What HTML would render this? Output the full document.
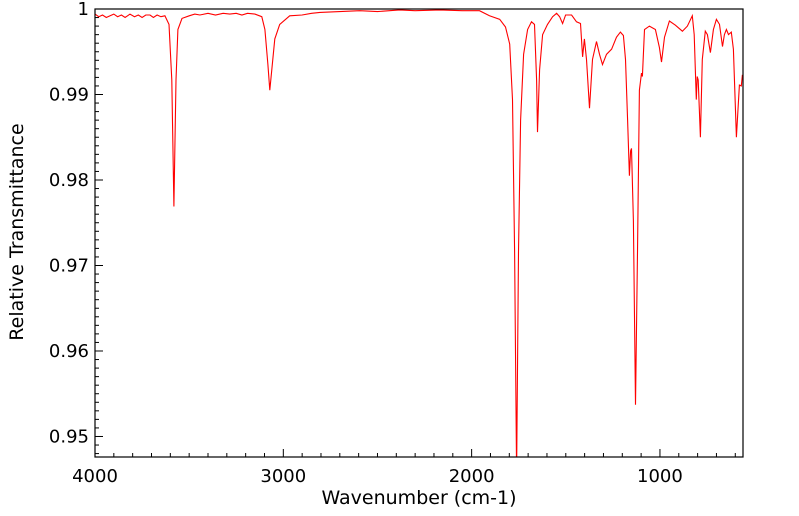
<!DOCTYPE html>
<html><head><meta charset="utf-8"><style>
html,body{margin:0;padding:0;background:#fff;}
svg{display:block;font-family:"DejaVu Sans","Liberation Sans",sans-serif;}
</style></head><body>
<svg id="chart" width="799" height="516" viewBox="0 0 799 516">
<g id="ticks"></g>
<g id="labels"></g>
<clipPath id="clip"><rect x="95" y="9" width="648" height="448"/></clipPath>
<path id="line" fill="none" stroke="#ff0000" stroke-width="1.1" clip-path="url(#clip)"/>
<rect x="95" y="9" width="648" height="448" fill="none" stroke="#000" stroke-width="1.2"/>
<text x="419" y="504" font-size="19" text-anchor="middle">Wavenumber (cm-1)</text>
<text x="23" y="232" font-size="19" text-anchor="middle" transform="rotate(-90 23 232)">Relative Transmittance</text>
</svg>
<script>
const wavenumbers=[4000,3980,3960,3940,3920,3900,3880,3860,3840,3814,3790,3770,3750,3730,3708,3690,3670,3650,3629,3607,3592,3581,3570,3560,3538,3500,3470,3443,3400,3360,3320,3284,3250,3220,3190,3151,3114,3098,3082,3072,3061,3045,3019,2966,2900,2850,2806,2700,2594,2500,2382,2300,2170,2050,1958,1905,1851,1820,1798,1783,1772,1761,1751,1740,1724,1703,1682,1666,1655,1650,1639,1623,1597,1570,1549,1533,1517,1501,1469,1443,1422,1411,1401,1390,1374,1358,1337,1321,1305,1284,1257,1231,1210,1194,1183,1172,1162,1156,1151,1141,1130,1119,1109,1098,1093,1082,1056,1024,1003,992,976,950,918,881,854,828,818,807,802,797,785,775,759,748,732,716,700,684,668,658,647,636,621,610,594,578,568,562];
const transmittance=[0.9994,0.9991,0.9993,0.9990,0.9992,0.9994,0.9991,0.9993,0.9990,0.9994,0.9991,0.9993,0.9990,0.9993,0.9993,0.9990,0.9993,0.9991,0.9992,0.9982,0.9917,0.9769,0.9917,0.9976,0.9989,0.9992,0.9994,0.9993,0.9995,0.9993,0.9995,0.9994,0.9995,0.9993,0.9995,0.9994,0.9991,0.9976,0.9935,0.9905,0.9929,0.9965,0.9982,0.9992,0.9993,0.9995,0.9996,0.9997,0.9998,0.9997,0.9999,0.9998,0.9999,0.9998,0.9998,0.9992,0.9988,0.9979,0.9959,0.9894,0.9716,0.9456,0.9716,0.9870,0.9947,0.9976,0.9985,0.9982,0.9917,0.9856,0.9929,0.9970,0.9982,0.9991,0.9995,0.9991,0.9983,0.9993,0.9993,0.9985,0.9983,0.9944,0.9965,0.9941,0.9884,0.9941,0.9962,0.9947,0.9935,0.9947,0.9953,0.9967,0.9973,0.9969,0.9941,0.9870,0.9805,0.9834,0.9837,0.9752,0.9537,0.9716,0.9905,0.9925,0.9921,0.9976,0.9980,0.9976,0.9955,0.9938,0.9967,0.9986,0.9981,0.9974,0.9980,0.9992,0.9970,0.9894,0.9921,0.9917,0.9850,0.9941,0.9974,0.9970,0.9949,0.9976,0.9988,0.9982,0.9956,0.9970,0.9976,0.9970,0.9973,0.9953,0.9850,0.9911,0.9910,0.9923];
const xTickLabels=[4000,3000,2000,1000];
const yTickLabels=[1,0.99,0.98,0.97,0.96,0.95];
const X0=95,X1=743,Y0=9,Y1=457,XMAX=4000,XMIN=559,YMAX=1.0,YMIN=0.9476;
const sx=v=>X0+(XMAX-v)/(XMAX-XMIN)*(X1-X0);
const sy=v=>Y0+(YMAX-v)/(YMAX-YMIN)*(Y1-Y0);
const NS="http://www.w3.org/2000/svg";
let d="";
wavenumbers.forEach((w,i)=>{d+=(i?"L":"M")+sx(w).toFixed(1)+","+sy(transmittance[i]).toFixed(1);});
document.getElementById('line').setAttribute('d',d);
const tg=document.getElementById('ticks'),lg=document.getElementById('labels');
function ln(x1,y1,x2,y2){const l=document.createElementNS(NS,'line');l.setAttribute('x1',x1);l.setAttribute('y1',y1);l.setAttribute('x2',x2);l.setAttribute('y2',y2);l.setAttribute('stroke','#000');l.setAttribute('stroke-width','1');


tg.appendChild(l);}
for(let w=4000;w>=XMIN;w-=100){const x=sx(w);const L=(w%1000===0)?8:4;ln(x,Y1,x,Y1-L);}
for(let k=0;k<=53;k++){const v=1-k*0.001;if(v<YMIN)break;const y=sy(v);const L=(k%10===0)?8:4;ln(X0,y,X0+L,y);}
xTickLabels.forEach(v=>{const t=document.createElementNS(NS,'text');t.setAttribute('x',sx(v));t.setAttribute('y',482);t.setAttribute('font-size','18');t.setAttribute('text-anchor','middle');t.textContent=v;


lg.appendChild(t);});
yTickLabels.forEach(v=>{const t=document.createElementNS(NS,'text');t.setAttribute('x',89);t.setAttribute('y',sy(v)+6);t.setAttribute('font-size','18');t.setAttribute('text-anchor','end');t.textContent=v;


lg.appendChild(t);});
</script>
</body></html>
